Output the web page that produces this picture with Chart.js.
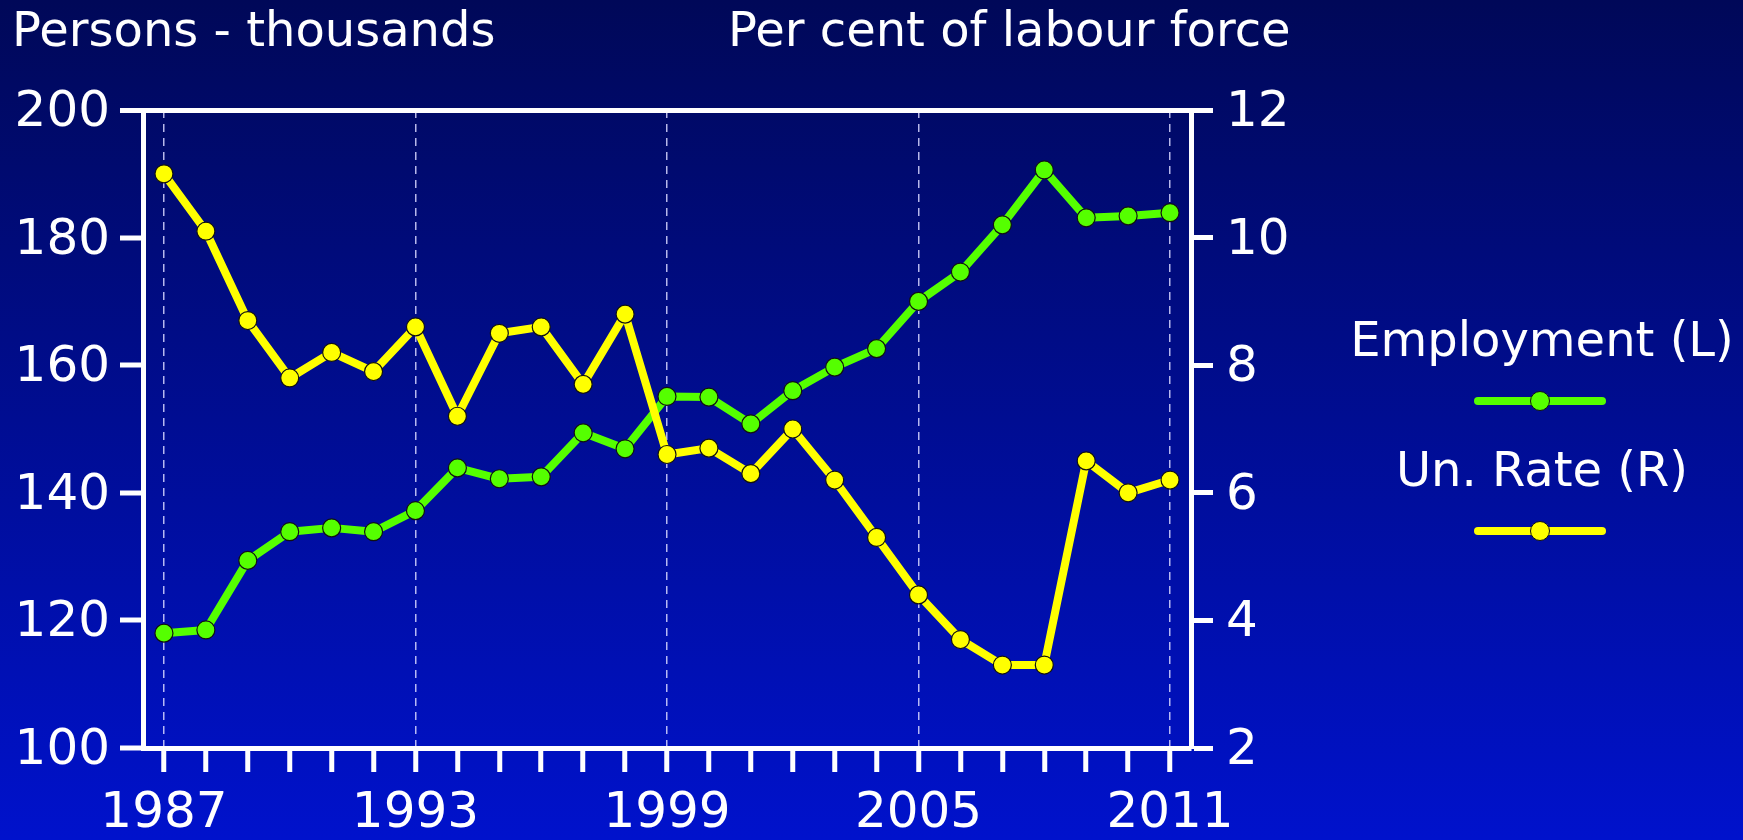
<!DOCTYPE html>
<html>
<head>
<meta charset="utf-8">
<script src="https://cdn.jsdelivr.net/npm/chart.js@4.4.1/dist/chart.umd.min.js"></script>
<style>
html,body{margin:0;padding:0;}
body{width:1743px;height:840px;overflow:hidden;position:relative;
  background:linear-gradient(to bottom, rgb(0,8,88) 0%, rgb(0,18,204) 100%);
  font-family:"DejaVu Sans",sans-serif;color:#fff;}
#c{position:absolute;left:0;top:0;}
.t{position:absolute;font-size:48px;line-height:48px;white-space:nowrap;}
.leg{position:absolute;left:1342px;width:400px;text-align:center;font-size:48px;line-height:48px;white-space:nowrap;}
.ln{position:absolute;left:1474px;width:132px;height:8px;border-radius:4px;}
.dot{position:absolute;left:1530px;width:18px;height:18px;border-radius:50%;border:1px solid #111;}
</style>
</head>
<body>
<canvas id="c" width="1743" height="840"></canvas>
<div class="t" style="left:12px;top:5px;">Persons - thousands</div>
<div class="t" style="left:728px;top:5px;">Per cent of labour force</div>
<div class="leg" style="top:315px;">Employment (L)</div>
<div class="ln" style="top:397px;background:#55ff00;"></div>
<div class="dot" style="top:391px;background:#55ff00;"></div>
<div class="leg" style="top:445px;">Un. Rate (R)</div>
<div class="ln" style="top:527px;background:#ffff00;"></div>
<div class="dot" style="top:521px;background:#ffff00;"></div>
<script>
const years = ['1987','1988','1989','1990','1991','1992','1993','1994','1995','1996','1997','1998','1999','2000','2001','2002','2003','2004','2005','2006','2007','2008','2009','2010','2011'];
const labelledYears = ['1987','1993','1999','2005','2011'];
const employment = [118.0,118.5,129.4,133.9,134.5,133.9,137.2,143.9,142.2,142.5,149.4,146.9,155.1,155.0,150.8,156.0,159.7,162.6,170.0,174.6,182.0,190.6,183.1,183.4,183.9];
const unRate = [11.0,10.1,8.7,7.8,8.2,7.9,8.6,7.2,8.5,8.6,7.7,8.8,6.6,6.7,6.3,7.0,6.2,5.3,4.4,3.7,3.3,3.3,6.5,6.0,6.2];
const leftTicks = {min:100, max:200, step:20};
const rightTicks = {min:2, max:12, step:2};

const GREEN = '#55ff00', YELLOW = '#ffff00';
const tickFont = {family:'"DejaVu Sans", sans-serif', size:50};

new Chart(document.getElementById('c'), {
  type:'line',
  data:{
    labels: years,
    datasets:[
      {label:'Employment (L)', data:employment, yAxisID:'y', order:2,
       borderColor:GREEN, backgroundColor:GREEN, borderWidth:8, tension:0,
       borderJoinStyle:'round', borderCapStyle:'round',
       pointRadius:9, pointHoverRadius:9, pointBackgroundColor:GREEN,
       pointBorderColor:'#111', pointBorderWidth:1.2},
      {label:'Un. Rate (R)', data:unRate, yAxisID:'y1', order:1,
       borderColor:YELLOW, backgroundColor:YELLOW, borderWidth:8, tension:0,
       borderJoinStyle:'round', borderCapStyle:'round',
       pointRadius:9, pointHoverRadius:9, pointBackgroundColor:YELLOW,
       pointBorderColor:'#111', pointBorderWidth:1.2}
    ]
  },
  options:{
    responsive:false, animation:false, devicePixelRatio:1,
    layout:{padding:{top:110,left:0,right:0,bottom:0}},
    plugins:{legend:{display:false}, tooltip:{enabled:false}},
    scales:{
      x:{
        offset:true,
        afterFit:s=>{s.height=92;},
        grid:{
          offset:false,
          drawOnChartArea:true,
          color:ctx=> (ctx.tick && labelledYears.includes(years[ctx.index])) ? 'rgba(215,215,255,0.85)' : 'transparent',
          lineWidth:1.5,
          tickColor:'#fff', tickWidth:5, tickLength:24
        },
        border:{display:true, color:'#fff', width:5, dash:[8,6]},
        ticks:{
          autoSkip:false, maxRotation:0, color:'#fff', font:tickFont, padding:12,
          callback:(v,i)=> labelledYears.includes(years[i]) ? years[i] : ''
        }
      },
      y:{
        position:'left', min:leftTicks.min, max:leftTicks.max,
        afterFit:s=>{s.width=143;},
        grid:{
          drawOnChartArea:true,
          color:ctx=> (ctx.tick && ctx.tick.value===leftTicks.max) ? '#fff' : 'transparent',
          lineWidth:ctx=> (ctx.tick && ctx.tick.value===leftTicks.max) ? 5 : 0,
          tickColor:'#fff', tickWidth:5, tickLength:23
        },
        border:{display:true, color:'#fff', width:5},
        ticks:{stepSize:leftTicks.step, color:'#fff', font:tickFont, padding:10, labelOffset:3}
      },
      y1:{
        position:'right', min:rightTicks.min, max:rightTicks.max,
        afterFit:s=>{s.width=552;},
        grid:{drawOnChartArea:false, tickColor:'#fff', tickWidth:5, tickLength:22},
        border:{display:true, color:'#fff', width:5},
        ticks:{stepSize:rightTicks.step, color:'#fff', font:tickFont, padding:13, labelOffset:3}
      }
    }
  }
});
</script>
</body>
</html>
